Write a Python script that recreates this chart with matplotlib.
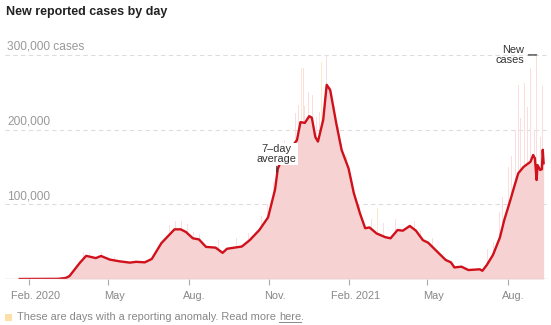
import matplotlib
matplotlib.use("Agg")
import matplotlib.pyplot as plt
import matplotlib.dates as mdates
import matplotlib.transforms as mtransforms
import pandas as pd

# 7-day average
avg_dates = [
    "2020-01-21", "2020-03-05", "2020-03-14", "2020-03-18", "2020-03-30",
    "2020-04-06", "2020-04-17", "2020-04-23", "2020-05-03", "2020-05-14",
    "2020-05-26", "2020-06-02", "2020-06-12", "2020-06-20", "2020-07-01",
    "2020-07-16", "2020-07-23", "2020-07-29", "2020-08-06", "2020-08-13",
    "2020-08-21", "2020-09-01", "2020-09-09", "2020-09-14", "2020-10-01",
    "2020-10-10", "2020-10-21", "2020-10-31", "2020-11-02", "2020-11-08",
    "2020-11-11", "2020-11-15", "2020-11-24", "2020-12-03", "2020-12-07",
    "2020-12-12", "2020-12-17", "2020-12-20", "2020-12-24", "2020-12-27",
    "2021-01-02", "2021-01-06", "2021-01-10", "2021-01-17", "2021-01-23",
    "2021-01-31", "2021-02-06", "2021-02-13", "2021-02-19", "2021-02-24",
    "2021-03-04", "2021-03-14", "2021-03-20", "2021-03-28", "2021-04-03",
    "2021-04-11", "2021-04-18", "2021-04-26", "2021-05-02", "2021-05-12",
    "2021-05-22", "2021-05-28", "2021-06-01", "2021-06-09", "2021-06-17",
    "2021-06-30", "2021-07-03", "2021-07-08", "2021-07-15", "2021-07-23",
    "2021-07-28", "2021-08-04", "2021-08-09", "2021-08-13", "2021-08-19",
    "2021-08-27", "2021-08-30", "2021-09-01", "2021-09-03", "2021-09-04",
    "2021-09-07", "2021-09-09", "2021-09-10", "2021-09-11",
]
avg_cases = [
    0, 200, 1500, 4000, 22000,
    31000, 28000, 30800, 26000, 23700,
    21900, 23000, 22300, 26800, 48000,
    66500, 66500, 63000, 54500, 53000,
    43000, 42000, 35000, 40500, 43500,
    52000, 65600, 82600, 92000, 120000,
    147000, 159000, 172000, 186000, 210000,
    209000, 218000, 216000, 190000, 184000,
    213000, 260000, 253000, 208000, 173000,
    148000, 115000, 88000, 68000, 69000,
    61000, 56000, 54500, 65600, 64700,
    71000, 64700, 52000, 48600, 37000,
    25500, 22300, 15500, 16500, 12000,
    13000, 11000, 18700, 32000, 55500,
    79000, 105800, 126000, 141500, 150000,
    157000, 166000, 161600, 132500, 152600,
    146000, 147000, 173000, 155000,
]

# daily counts that stick out above the pink mass
spike_dates = [
    "2020-04-03", "2020-04-10", "2020-04-24", "2020-05-08", "2020-06-26",
    "2020-07-10", "2020-07-17", "2020-07-24", "2020-07-31", "2020-08-07",
    "2020-08-14", "2020-09-04", "2020-09-25", "2020-10-09", "2020-10-16",
    "2020-10-23", "2020-10-30", "2020-11-06", "2020-11-13", "2020-11-19",
    "2020-11-25", "2020-12-01", "2020-12-05", "2020-12-10", "2020-12-12",
    "2020-12-16", "2020-12-21", "2020-12-25", "2020-12-29", "2020-12-31",
    "2021-01-06", "2021-01-10", "2021-01-15", "2021-01-19", "2021-01-23",
    "2021-01-29", "2021-02-05", "2021-02-12", "2021-02-26", "2021-03-12",
    "2021-03-26", "2021-04-01", "2021-04-09", "2021-04-16", "2021-04-23",
    "2021-05-07", "2021-07-09", "2021-07-16", "2021-07-23", "2021-07-26",
    "2021-07-30", "2021-08-02", "2021-08-05", "2021-08-07", "2021-08-10",
    "2021-08-13", "2021-08-16", "2021-08-20", "2021-08-24", "2021-08-27",
    "2021-08-31", "2021-09-01", "2021-09-03", "2021-09-07", "2021-09-10",
]
spike_cases = [
    36000, 35000, 36000, 30000, 45000,
    72000, 77000, 78000, 73000, 63000,
    60000, 52000, 55000, 62000, 70000,
    84000, 100000, 130000, 170000, 186000,
    204000, 222000, 233000, 282000, 231000,
    251000, 246000, 217000, 224000, 291000,
    300000, 257000, 231000, 204000, 182000,
    165000, 130000, 100000, 80000, 75000,
    80000, 78000, 85000, 78000, 66000,
    55000, 40000, 50000, 90000, 110000,
    120000, 150000, 165000, 179000, 200000,
    260000, 215000, 262000, 230000, 282000,
    235000, 200000, 300000, 190000, 258000,
]

# reporting anomaly days
anomaly_dates = ["2020-12-08", "2020-12-31", "2021-03-05", "2021-06-28"]
anomaly_cases = [282000, 291000, 95000, 65000]

tick_dates = ["2020-02-01", "2020-05-01", "2020-08-01", "2020-11-01",
              "2021-02-01", "2021-05-01", "2021-08-01"]
tick_labels = ["Feb. 2020", "May", "Aug.", "Nov.", "Feb. 2021", "May", "Aug."]
grid_values = [100000, 200000, 300000]
grid_labels = ["100,000", "200,000", "300,000 cases"]

RED = "#d0101b"
PINK = "#f6d3d2"
SPIKE = "#f9dedd"
CREAM = "#fde9c9"
GRAY = "#999999"

plt.rcParams["font.family"] = ["Liberation Sans", "DejaVu Sans"]

fig = plt.figure(figsize=(5.51, 3.25), dpi=100)
W, H = 551, 325
ax = fig.add_axes([5 / W, 1 - 279 / H, 543 / W, 239 / H])

x_avg = pd.to_datetime(avg_dates)
ax.bar(pd.to_datetime(spike_dates), spike_cases, width=1.0, color=SPIKE, lw=0, zorder=1)
ax.bar(pd.to_datetime(anomaly_dates), anomaly_cases, width=1.0, color=CREAM, lw=0, zorder=1)
ax.fill_between(x_avg, avg_cases, color=PINK, lw=0, zorder=2)
ax.plot(x_avg, avg_cases, color=RED, lw=1.7, solid_joinstyle="round", zorder=4)

ax.set_xlim(pd.Timestamp("2020-01-04 05:00"), pd.Timestamp("2021-09-16"))
ax.set_ylim(0, 320000)

for v in grid_values:
    ax.axhline(v, color="#dddddd", lw=0.8, ls=(0, (4, 3)), zorder=0)
ax.axhline(0, color="#cccccc", lw=1, zorder=5)

lab_tr = mtransforms.offset_copy(ax.get_yaxis_transform(), fig=fig, x=2, y=8, units="dots")
for v, lab in zip(grid_values, grid_labels):
    ax.text(0, v, lab, transform=lab_tr, ha="left", va="center", fontsize=8.6, color=GRAY)

for s in ax.spines.values():
    s.set_visible(False)
ax.set_yticks([])
ax.set_xticks(pd.to_datetime(tick_dates))
ax.set_xticklabels([])
ax.tick_params(axis="x", length=4, width=0.8, color="#aaaaaa", pad=0)

tick_tr = mtransforms.offset_copy(ax.get_xaxis_transform(), fig=fig, x=6, y=-17, units="dots")
for d, lab in zip(pd.to_datetime(tick_dates), tick_labels):
    ax.text(mdates.date2num(d), 0, lab, transform=tick_tr, ha="center", va="center",
            fontsize=7.9, color="#888888")

# labels on the chart
ax.annotate("7\u2013day\naverage", xy=(mdates.date2num(pd.Timestamp("2020-11-10")), 143000),
            xytext=(0, 6), textcoords="offset points", ha="center", va="bottom",
            fontsize=7.9, color="#333333", linespacing=0.95,
            bbox=dict(boxstyle="square,pad=0.1", fc="white", ec="none"),
            arrowprops=dict(arrowstyle="-", color="#333333", lw=0.9, shrinkA=1, shrinkB=0),
            zorder=6)
ax.annotate("New\ncases", xy=(mdates.date2num(pd.Timestamp("2021-09-03")), 300000),
            xytext=(-9, 0), textcoords="offset points", ha="right", va="center",
            fontsize=7.9, color="#333333", linespacing=0.95,
            arrowprops=dict(arrowstyle="-", color="#333333", lw=0.9, shrinkA=1, shrinkB=0),
            zorder=6)

fig.text(6 / W, 1 - 12 / H, "New reported cases by day", ha="left", va="center",
         fontsize=9, fontweight="bold", color="#222222")

# footnote
fig.patches.append(plt.Rectangle((5 / W, 1 - 321 / H), 7 / W, 7 / H, transform=fig.transFigure,
                                 color="#fddfa8", lw=0))
note = fig.text(17 / W, 1 - 317.5 / H, "These are days with a reporting anomaly. Read more ",
                ha="left", va="center", fontsize=7.9, color="#888888")
fig.canvas.draw()
r = fig.canvas.get_renderer()
bb = note.get_window_extent(r)
here = fig.text(bb.x1 / W, 1 - 317.5 / H, "here", ha="left", va="center",
                fontsize=7.9, color="#888888")
bb2 = here.get_window_extent(r)
fig.text(bb2.x1 / W, 1 - 317.5 / H, ".", ha="left", va="center", fontsize=7.9, color="#888888")
fig.add_artist(plt.Line2D([bb2.x0 / W, bb2.x1 / W], [(bb2.y0 + 1) / H] * 2,
                          transform=fig.transFigure, color="#888888", lw=0.7))

fig.savefig("out.png", dpi=100)
